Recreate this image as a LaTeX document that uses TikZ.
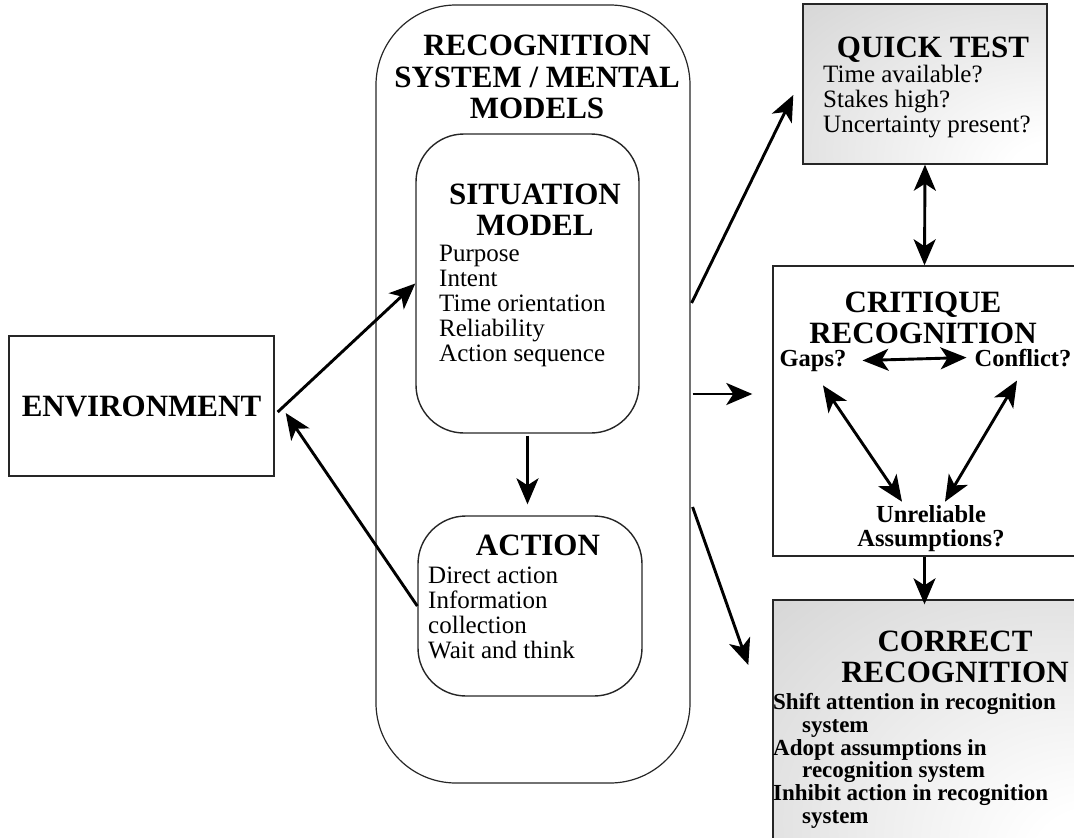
\documentclass[tikz,border=0pt]{standalone}
\usepackage{fontspec}
\setmainfont{Liberation Serif}
\usetikzlibrary{arrows.meta}
\pgfdeclareradialshading{testshade}{\pgfpoint{30bp}{-30bp}}{color(0bp)=(white); color(10bp)=(white); color(75bp)=(black!21); color(130bp)=(black!21)}
\begin{document}
\begin{tikzpicture}[x=1pt,y=-1pt,
    box/.style={draw=black!85, line width=1.4pt, inner sep=0pt},
    headtext/.style={font=\fontsize{31}{31.5}\selectfont\bfseries, align=center, inner sep=0pt},
    bodytext/.style={font=\fontsize{25}{25}\selectfont, align=left, anchor=west, inner sep=0pt},
    asktext/.style={font=\fontsize{24.5}{24}\selectfont\bfseries, align=center, inner sep=0pt},
    fixtext/.style={font=\fontsize{23}{22.7}\selectfont\bfseries, align=left, anchor=west, inner sep=0pt},
    tip/.tip={Stealth[length=26pt,width=22pt,inset=7pt]},
    arr/.style={-tip, line width=2.9pt},
    darr/.style={tip-tip, line width=2.9pt}]
  \useasboundingbox (0,0) rectangle (1074,838);
  % boxes
  \node[box, headtext, minimum width=265pt, minimum height=140pt] (env) at (141.5,406) {ENVIRONMENT};
  \node[box, line width=1.2pt, rounded corners=80pt, minimum width=314pt, minimum height=778pt] (rec) at (533,394) {};
  \node[box, rounded corners=48pt, minimum width=223pt, minimum height=299pt] (sit) at (527.5,283.5) {};
  \node[box, rounded corners=48pt, minimum width=224pt, minimum height=180pt] (act) at (530,606) {};
  \node[box, shade, shading=testshade, minimum width=244pt, minimum height=160pt] (quick) at (925,84) {};
  \node[box, minimum width=303pt, minimum height=290pt] (crit) at (924.5,411) {};
  \node[box, shade, shading=testshade, minimum width=307pt, minimum height=245pt] (corr) at (926.5,722.5) {};
  % texts
  \node[headtext] (rectitle) at (537,77) {RECOGNITION\\SYSTEM / MENTAL\\MODELS};
  \node[headtext] (sittitle) at (535,210) {SITUATION\\MODEL};
  \node[bodytext] (sitbody) at (439,306) {Purpose\\Intent\\Time orientation\\Reliability\\Action sequence};
  \node[headtext] (acttitle) at (538,545) {ACTION};
  \node[bodytext] (actbody) at (428,613) {Direct action\\Information\\collection\\Wait and think};
  \node[headtext] (quicktitle) at (933,50) {QUICK TEST};
  \node[bodytext] (quickbody) at (823,102) {Time available?\\Stakes high?\\Uncertainty present?};
  \node[headtext] (crittitle) at (923,318) {CRITIQUE\\RECOGNITION};
  \node[asktext, anchor=base] (gaps) at (813,366) {Gaps?};
  \node[asktext, anchor=base] (conflict) at (1023,366) {Conflict?};
  \node[asktext] (unrel) at (931,529) {Unreliable\\Assumptions?};
  \node[headtext] (corrtitle) at (955,657) {CORRECT\\RECOGNITION};
  \node[fixtext] (corrbody) at (773,761) {Shift attention in recognition\\\hspace*{29pt}system\\Adopt assumptions in\\\hspace*{29pt}recognition system\\Inhibit action in recognition\\\hspace*{29pt}system};
  % connectors
  \begin{scope}[arr]
    \draw ([xshift=3pt,yshift=-6pt]env.east) to (sit.west);
    \draw (act.west) to ([xshift=11pt,yshift=-7pt]env.east);
    \draw ([yshift=-2pt]sit.south) to ([yshift=11pt]sit.south |- act.north);
    \draw ([xshift=1pt,yshift=91pt]rec.east) to ([xshift=-9pt,yshift=-11pt]quick.west);
    \draw ([xshift=2pt]rec.east) to ([xshift=-20pt]crit.west |- rec.east);
    \draw ([xshift=2pt,yshift=-113pt]rec.east) to ([xshift=-24pt,yshift=57.5pt]corr.west);
    \draw (crit.south) to ([yshift=-5pt]crit.south |- corr.north);
  \end{scope}
  \begin{scope}[darr]
    \draw (quick.south) to (crit.north);
    \draw ([xshift=16pt]gaps.east) to ([xshift=-8pt]conflict.west);
    \draw ([xshift=10pt,yshift=-14pt]gaps.south) to ([xshift=-29pt,yshift=4pt]unrel.north);
    \draw ([xshift=-6pt,yshift=-14pt]conflict.south) to ([xshift=14pt,yshift=4pt]unrel.north);
  \end{scope}
\end{tikzpicture}
\end{document}
